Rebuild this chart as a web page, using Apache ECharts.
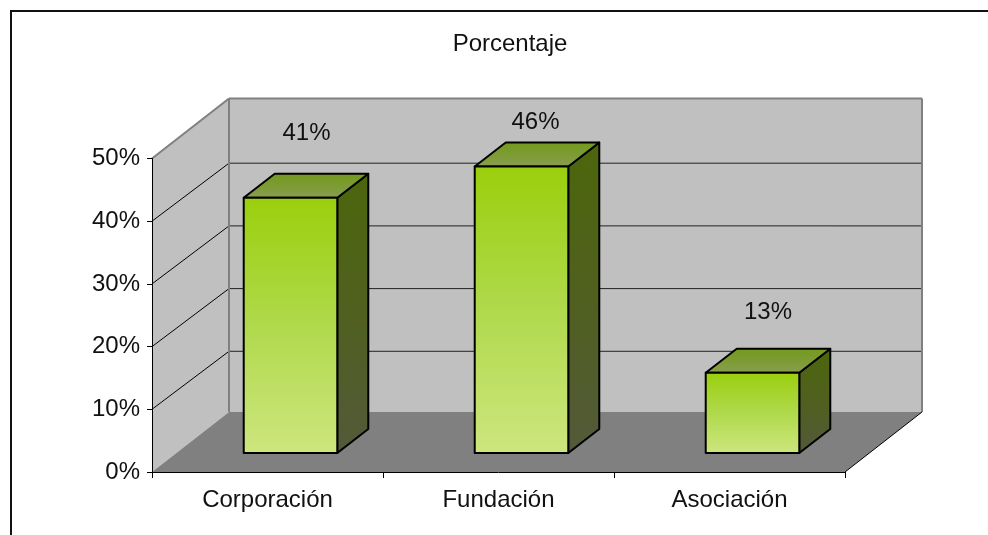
<!DOCTYPE html>
<html>
<head>
<meta charset="utf-8">
<style>html,body{margin:0;padding:0;background:#fff}#c{width:988px;height:535px}</style>
<script src="https://cdn.jsdelivr.net/npm/echarts@6/dist/echarts.min.js"></script>
</head>
<body>
<div id="c"></div>
<script>
const titleText = 'Porcentaje';
const categories = ['Corporación', 'Fundación', 'Asociación'];
const values = [40.7, 45.7, 12.8];
const axisTicks = [0, 10, 20, 30, 40, 50];

// Oblique projection of the pseudo-3D box, in pixels (style, not data)
const WALL_DX = 77, WALL_DY = -60, GRID_DY = -58;
const BAR_DX = 23, BAR_DY = -19, BAR_DEPTH_DX = 31, BAR_DEPTH_DY = -24;
const BAR_RATIO = 0.405;
const labelShift = [[16, -64], [14, -44], [15.5, -60]];
const FONT = '"Liberation Sans", Arial, sans-serif';

function vgrad(a, b, c) {
  const stops = [{offset: 0, color: a}, {offset: 0.5, color: b}, {offset: 1, color: c}];
  return new echarts.graphic.LinearGradient(0, 0, 0, 1, stops);
}
function poly(points, fill, stroke, lw, z2) {
  return {type: 'polygon', z2: z2 || 0, shape: {points},
    style: {fill: fill, stroke: stroke || null, lineWidth: lw || 0, lineJoin: 'round'}};
}
function line(x1, y1, x2, y2, stroke, lw) {
  return {type: 'line', shape: {x1, y1, x2, y2}, style: {stroke, lineWidth: lw}};
}

function renderWalls(params, api) {
  const cs = params.coordSys;
  const L = cs.x, R = cs.x + cs.width, T = cs.y, B = cs.y + cs.height;
  const dx = WALL_DX, dy = WALL_DY;
  const kids = [
    poly([[L, B], [L + dx, B + dy], [L + dx, T + dy], [L, T]], '#c0c0c0'),
    poly([[L + dx, B + dy], [R + dx, B + dy], [R + dx, T + dy], [L + dx, T + dy]], '#c0c0c0'),
    poly([[L, B], [R, B], [R + dx, B + dy], [L + dx, B + dy]], '#808080')
  ];
  axisTicks.slice(1, -1).forEach(function (t) {
    const y = api.coord([0, t])[1];
    kids.push(line(L, y, L + dx, y + GRID_DY, '#000', 1));
    kids.push(line(L + dx, y + GRID_DY, R + dx, y + GRID_DY, '#222', 1));
  });
  kids.push(line(L, T, L + dx, T + dy, '#808080', 2));
  kids.push(line(L + dx, T + dy, R + dx, T + dy, '#808080', 2));
  kids.push(line(L + dx, T + dy, L + dx, B + dy, '#808080', 2));
  kids.push(line(R + dx, T + dy, R + dx, B + dy, '#808080', 2));
  kids.push(line(R, B, R + dx, B + dy, '#000', 1));
  return {type: 'group', children: kids};
}

function renderBar(params, api) {
  const i = api.value(0), v = api.value(1);
  const base = api.coord([i, 0]), top = api.coord([i, v]);
  const w = api.size([1, 0])[0] * BAR_RATIO;
  const x0 = base[0] + BAR_DX - w / 2, x1 = x0 + w;
  const yb = base[1] + BAR_DY, yt = top[1] + BAR_DY;
  const dx = BAR_DEPTH_DX, dy = BAR_DEPTH_DY;
  const s = labelShift[i];
  return {type: 'group', children: [
    poly([[x1, yb], [x1 + dx, yb + dy], [x1 + dx, yt + dy], [x1, yt]],
      vgrad('#4c660c', '#50601f', '#53593a'), '#000', 2),
    poly([[x0, yt], [x1, yt], [x1 + dx, yt + dy], [x0 + dx, yt + dy]],
      vgrad('#739a1c', '#7d9b33', '#8a9e52'), '#000', 2),
    poly([[x0, yb], [x1, yb], [x1, yt], [x0, yt]],
      vgrad('#9acf0c', '#b0d94c', '#cde67e'), '#000', 2),
    {type: 'text', z2: 5, style: {
      x: (x0 + x1) / 2 + s[0], y: yt + s[1],
      text: Math.round(v) + '%', fill: '#111', font: '24px ' + FONT,
      align: 'center', verticalAlign: 'middle'}}
  ]};
}

const chart = echarts.init(document.getElementById('c'), null, {renderer: 'canvas'});
chart.setOption({
  animation: false,
  backgroundColor: '#fff',
  title: {text: titleText, left: 505, top: 27, textAlign: 'center',
    textStyle: {fontFamily: FONT, fontSize: 24, fontWeight: 'normal', color: '#111'}},
  graphic: [
    {type: 'polyline', silent: true, z: -1,
     shape: {points: [[11, 540], [11, 11], [995, 11]]},
     style: {fill: null, stroke: '#111', lineWidth: 2}}
  ],
  grid: {left: 152, right: 143, top: 158.5, bottom: 63},
  xAxis: {type: 'category', data: categories, z: 5,
    axisLine: {lineStyle: {color: '#000', width: 1}},
    axisTick: {show: true, length: 6, lineStyle: {color: '#000'}},
    axisLabel: {color: '#111', fontFamily: FONT, fontSize: 24, margin: 16}},
  yAxis: {type: 'value', min: 0, max: 50, interval: 10, z: 5,
    axisLine: {show: true, lineStyle: {color: '#000', width: 1}},
    axisTick: {show: true, length: 5, lineStyle: {color: '#000'}},
    splitLine: {show: false},
    axisLabel: {color: '#111', fontFamily: FONT, fontSize: 24, margin: 12, padding: [2, 0, 0, 0], formatter: '{value}%'}},
  series: [
    {type: 'custom', z: 1, silent: true, renderItem: renderWalls, data: [[0, 0]], encode: {x: 0, y: 1}},
    {type: 'custom', z: 3, silent: true, renderItem: renderBar,
     data: values.map(function (v, i) { return [i, v]; }), encode: {x: 0, y: 1}}
  ]
});
</script>
</body>
</html>
